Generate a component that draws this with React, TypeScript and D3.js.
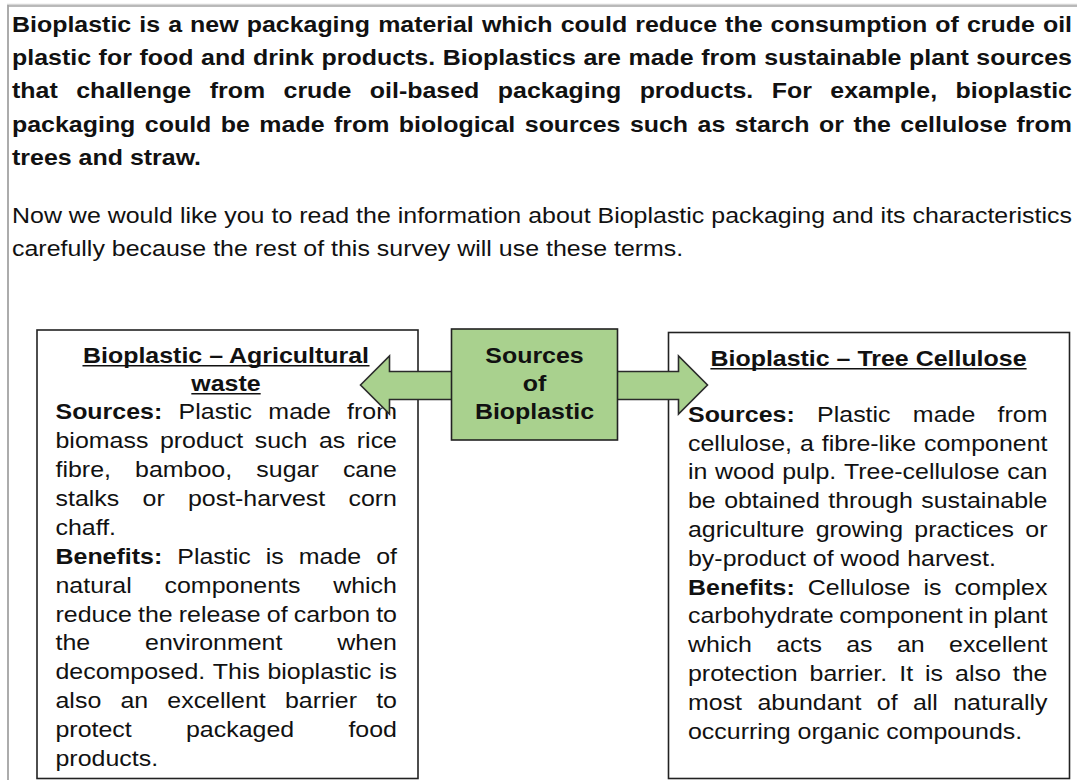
import React, { useMemo } from "react";
import * as d3 from "d3";

// text content
const introLines = [
  "Bioplastic is a new packaging material which could reduce the consumption of crude oil",
  "plastic for food and drink products. Bioplastics are made from sustainable plant sources",
  "that challenge from crude oil-based packaging products. For example, bioplastic",
  "packaging could be made from biological sources such as starch or the cellulose from",
  "trees and straw.",
];
const noteLines = [
  "Now we would like you to read the information about Bioplastic packaging and its characteristics",
  "carefully because the rest of this survey will use these terms.",
];
const hubLines = ["Sources", "of", "Bioplastic"];
const agriTitle = ["Bioplastic – Agricultural", "waste"];
const agriLines = [
  "Sources: Plastic made from",
  "biomass product such as rice",
  "fibre, bamboo, sugar cane",
  "stalks or post-harvest corn",
  "chaff.",
  "Benefits: Plastic is made of",
  "natural components which",
  "reduce the release of carbon to",
  "the environment when",
  "decomposed. This bioplastic is",
  "also an excellent barrier to",
  "protect packaged food",
  "products.",
];
const agriParaEnds = [4, 12];
const treeTitle = ["Bioplastic – Tree Cellulose"];
const treeLines = [
  "Sources: Plastic made from",
  "cellulose, a fibre-like component",
  "in wood pulp. Tree-cellulose can",
  "be obtained through sustainable",
  "agriculture growing practices or",
  "by-product of wood harvest.",
  "Benefits: Cellulose is complex",
  "carbohydrate component in plant",
  "which acts as an excellent",
  "protection barrier. It is also the",
  "most abundant of all naturally",
  "occurring organic compounds.",
];
const treeParaEnds = [5, 11];
const boldLeads = ["Sources:", "Benefits:"];

const W = 1077;
const H = 780;
const FONT = "'Liberation Sans', Arial, sans-serif";
const SIZE = 23;
const SX = 1.085; // the scan is a little wider than tall
const INK = "#111";
const GREEN = "#a9d18e";

const canvas = document.createElement("canvas");
const ctx = canvas.getContext("2d");
function measure(s, bold) {
  ctx.font = (bold ? "bold " : "") + SIZE + "px " + FONT;
  return ctx.measureText(s).width * SX;
}

// place words of one line, justified between x0 and x1 unless last line
function layoutLine(line, x0, x1, justify, allBold) {
  const words = line.split(" ");
  const bolds = words.map((w, i) => allBold || (i === 0 && boldLeads.includes(w)));
  const widths = words.map((w, i) => measure(w, bolds[i]));
  const total = d3.sum(widths);
  const gap =
    justify && words.length > 1
      ? (x1 - x0 - total) / (words.length - 1)
      : measure(" ", allBold);
  let x = x0;
  return words.map((w, i) => {
    const out = { text: w, x, bold: bolds[i] };
    x += widths[i] + gap;
    return out;
  });
}

function Paragraph({ lines, x0, x1, y0, y1, ends, allBold }) {
  const y = d3.scaleLinear().domain([0, lines.length - 1]).range([y0, y1]);
  return (
    <g>
      {lines.map((line, i) =>
        layoutLine(line, x0, x1, !ends.includes(i), allBold).map((w, j) => (
          <text
            key={i + "-" + j}
            transform={`translate(${w.x},${y(i)}) scale(${SX},1)`}
            fontWeight={w.bold ? "bold" : "normal"}
          >
            {w.text}
          </text>
        ))
      )}
    </g>
  );
}

function Title({ lines, cx, ys }) {
  return (
    <g fontWeight="bold">
      {lines.map((t, i) => {
        const w = measure(t, true);
        return (
          <g key={i}>
            <text
              transform={`translate(${cx},${ys[i]}) scale(${SX},1)`}
              textAnchor="middle"
            >
              {t}
            </text>
            <line
              x1={cx - w / 2}
              x2={cx + w / 2}
              y1={ys[i] + 3.2}
              y2={ys[i] + 3.2}
              stroke={INK}
              strokeWidth={1.6}
            />
          </g>
        );
      })}
    </g>
  );
}

export default function App() {
  const arrow = useMemo(() => {
    const mid = 385;
    const pts = [
      [360.5, mid],
      [389.5, 356],
      [389.5, 371.5],
      [678.5, 371.5],
      [678.5, 356],
      [707.5, mid],
      [678.5, 414],
      [678.5, 399.5],
      [389.5, 399.5],
      [389.5, 414],
    ];
    return d3.line()(pts) + "Z";
  }, []);

  const hubY = d3.scaleLinear().domain([0, 2]).range([363.3, 419.3]);

  return (
    <svg
      width={W}
      height={H}
      style={{ position: "absolute", left: 0, top: 0, background: "#fff" }}
      fontFamily={FONT}
      fontSize={SIZE}
      fill={INK}
    >
      {/* page frame */}
      <line x1={7} x2={W} y1={4.5} y2={4.5} stroke="#d6d6d6" strokeWidth={1.5} />
      <line x1={8} x2={W} y1={6} y2={6} stroke="#a3a3a3" strokeWidth={1.6} />
      <line x1={8} x2={8} y1={5} y2={H} stroke="#a3a3a3" strokeWidth={1.8} />

      <Paragraph lines={introLines} x0={12} x1={1072} y0={31.5} y1={165} ends={[4]} allBold />
      <Paragraph lines={noteLines} x0={12} x1={1072} y0={222.8} y1={255.8} ends={[1]} allBold={false} />

      {/* side boxes */}
      <rect x={37} y={330} width={381} height={448.5} fill="#fff" stroke="#222" strokeWidth={1.6} />
      <rect x={668.5} y={332.5} width={401} height={446} fill="#fff" stroke="#222" strokeWidth={1.6} />

      <Title lines={agriTitle} cx={226} ys={[362.5, 390.5]} />
      <Title lines={treeTitle} cx={868.5} ys={[365.5]} />

      <Paragraph lines={agriLines} x0={55.5} x1={397} y0={419.3} y1={766} ends={agriParaEnds} allBold={false} />
      <Paragraph lines={treeLines} x0={688} x1={1047.5} y0={421.7} y1={738.6} ends={treeParaEnds} allBold={false} />

      {/* double arrow and hub */}
      <path d={arrow} fill={GREEN} stroke="#2a2a2a" strokeWidth={1.6} strokeLinejoin="miter" />
      <rect x={451.5} y={329} width={166} height={111} fill={GREEN} stroke="#222" strokeWidth={1.6} />
      <g fontWeight="bold">
        {hubLines.map((t, i) => (
          <text
            key={t}
            transform={`translate(534.5,${hubY(i)}) scale(${SX},1)`}
            textAnchor="middle"
          >
            {t}
          </text>
        ))}
      </g>
    </svg>
  );
}
